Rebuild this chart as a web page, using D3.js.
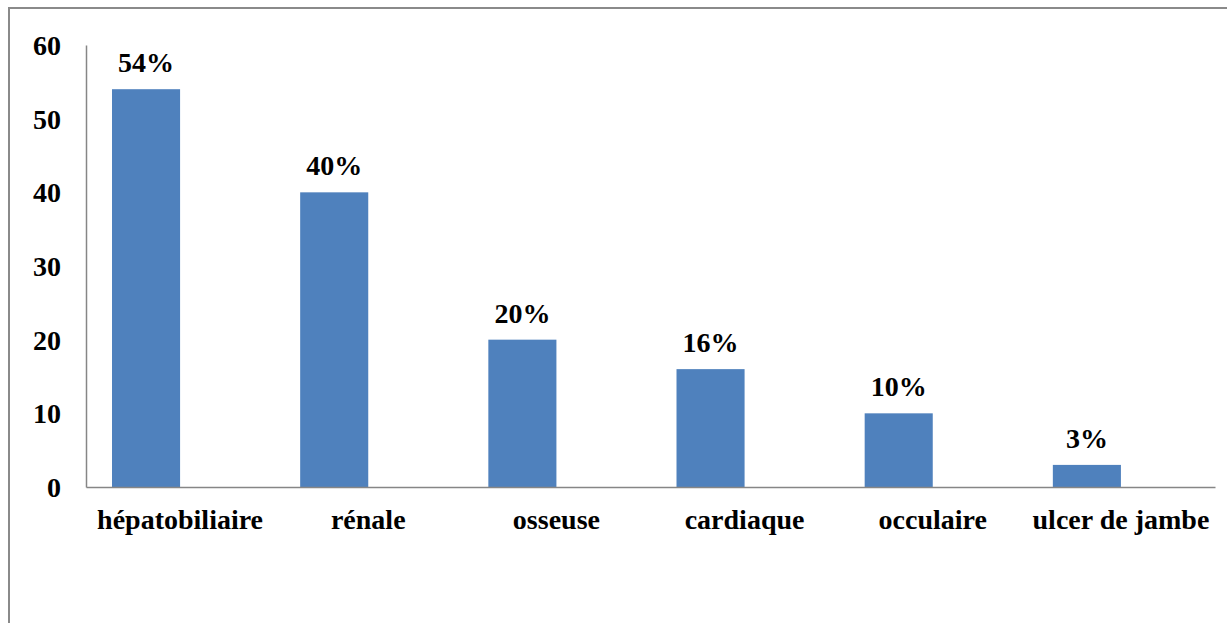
<!DOCTYPE html>
<html>
<head>
<meta charset="utf-8">
<script src="https://cdn.jsdelivr.net/npm/d3@7"></script>
<style>
  html, body { margin: 0; padding: 0; background: #fff; overflow: hidden; }
  svg { display: block; }
</style>
</head>
<body>
<script>
// Localisations of the complications (percent of patients)
const categories = ["hépatobiliaire", "rénale", "osseuse", "cardiaque", "occulaire", "ulcer de jambe"];
const values = [54, 40, 20, 16, 10, 3];
const yTicks = [0, 10, 20, 30, 40, 50, 60];
// The chart was laid out as a two-series cluster; only the first series holds data
const seriesKeys = ["a", "b"];

const W = 1227, H = 623;
const font = "'Liberation Serif', 'Times New Roman', serif";
const svg = d3.select("body").append("svg").attr("width", W).attr("height", H);

// outer frame (runs past the right and bottom edges)
svg.append("rect")
  .attr("x", 9).attr("y", 8)
  .attr("width", W + 20).attr("height", H + 20)
  .attr("fill", "none").attr("stroke", "#8a8a8a").attr("stroke-width", 2);

const plot = { left: 86, right: 1215, top: 45, bottom: 487 };

const x = d3.scaleBand().domain(categories).range([plot.left, plot.right]).paddingInner(0).paddingOuter(0);
const xs = d3.scaleBand().domain(seriesKeys).range([0, x.bandwidth()]).paddingInner(0).paddingOuter(0.382);
const y = d3.scaleLinear().domain([0, 60]).range([plot.bottom, plot.top]);

const data = categories.map((c, i) => ({ cat: c, v: values[i] }));

// bars
svg.append("g").selectAll("rect").data(data).join("rect")
  .attr("x", d => x(d.cat) + xs("a"))
  .attr("width", xs.bandwidth())
  .attr("y", d => y(d.v))
  .attr("height", d => y(0) - y(d.v))
  .attr("fill", "#4f81bd");

// value labels
svg.append("g").selectAll("text").data(data).join("text")
  .attr("x", d => x(d.cat) + xs("a") + xs.bandwidth() / 2)
  .attr("y", d => y(d.v) - 17)
  .attr("text-anchor", "middle")
  .attr("font-family", font).attr("font-weight", "bold").attr("font-size", 28)
  .attr("fill", "#000")
  .text(d => d.v + "%");

// y axis
const yAxis = svg.append("g")
  .attr("transform", `translate(${plot.left},0)`)
  .call(d3.axisLeft(y).tickValues(yTicks).tickSize(0).tickPadding(25).tickFormat(d3.format("d")));
yAxis.select(".domain").attr("stroke", "#868686").attr("stroke-width", 1.5);
yAxis.selectAll("text")
  .attr("font-family", font).attr("font-weight", "bold").attr("font-size", 28)
  .attr("fill", "#000").attr("dy", "0.34em");

// x axis
const xAxis = svg.append("g")
  .attr("transform", `translate(0,${plot.bottom})`)
  .call(d3.axisBottom(x).tickSize(0).tickPadding(22));
xAxis.select(".domain").attr("stroke", "#868686").attr("stroke-width", 1.5);
xAxis.selectAll("text")
  .attr("font-family", font).attr("font-weight", "bold").attr("font-size", 28)
  .attr("fill", "#000").attr("dy", "0.71em");
</script>
</body>
</html>
